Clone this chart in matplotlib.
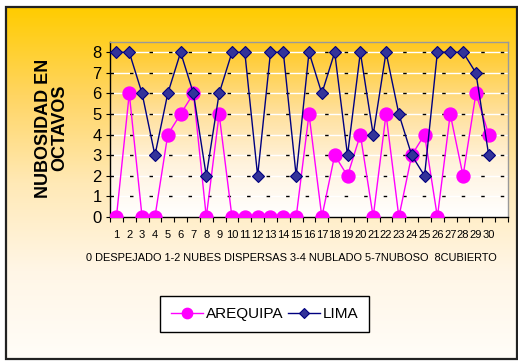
import numpy as np
import matplotlib
matplotlib.use('Agg')
import matplotlib.pyplot as plt
from matplotlib.colors import LinearSegmentedColormap
from matplotlib.patches import Rectangle

days = list(range(1, 31))
arequipa = [0, 6, 0, 0, 4, 5, 6, 0, 5, 0, 0, 0, 0, 0, 0,
            5, 0, 3, 2, 4, 0, 5, 0, 3, 4, 0, 5, 2, 6, 4]
lima = [8, 8, 6, 3, 6, 8, 6, 2, 6, 8, 8, 2, 8, 8, 2,
        8, 6, 8, 3, 8, 4, 8, 5, 3, 2, 8, 8, 8, 7, 3]
yticks = list(range(0, 9))
ylabel = 'NUBOSIDAD EN\nOCTAVOS'
xtitle = '0 DESPEJADO 1-2 NUBES DISPERSAS 3-4 NUBLADO 5-7NUBOSO  8CUBIERTO'

plt.rcParams['font.family'] = ['Liberation Sans', 'DejaVu Sans']

W, H = 518, 361
fig = plt.figure(figsize=(W / 100, H / 100), dpi=100)
fig.patch.set_facecolor('white')

# background with gold -> white gradient inside a black frame
bg = fig.add_axes([0, 0, 1, 1], zorder=-5)
bg.set_xlim(0, W)
bg.set_ylim(H, 0)
bg.axis('off')
outer = LinearSegmentedColormap.from_list(
    'outer', [(0, '#FFCC00'), (0.25, '#FFD562'), (0.5, '#FFE9B6'),
              (0.75, '#FFF6E6'), (1, '#FFFDF8')])
grad = np.linspace(0, 1, 256).reshape(-1, 1)
bg.imshow(grad, cmap=outer, extent=(6, 517, 359, 7), aspect='auto')
bg.add_patch(Rectangle((6, 7), 511, 352, fill=False, ec='#222222', lw=1.6))

# plot area
ax = fig.add_axes([110 / W, 144 / H, 398 / W, 175 / H])
inner = LinearSegmentedColormap.from_list(
    'inner', [(0, '#FFC81E'), (0.4, '#FFE09C'), (0.7, '#FFF3DE'), (1, '#FFFFFF')])
ax.imshow(grad, cmap=inner, extent=(0.5, 31.5, 0, 8.5), aspect='auto', zorder=0)
ax.set_xlim(0.5, 31.5)
ax.set_ylim(0, 8.5)

for y in yticks[1:]:
    ax.axhline(y, color='white', lw=1.0, zorder=1)
    ax.axhline(y, color='black', lw=1.0, ls=(0, (2.5, 11.55)), zorder=1.5)

ax.plot(days, arequipa, color='#FF00FF', lw=1.0, marker='o', ms=9.3,
        mfc='#FF00FF', mec='#FF00FF', label='AREQUIPA', zorder=3)
ax.plot(days, lima, color='#000080', lw=1.0, marker='D', ms=6.5,
        mfc='#333399', mec='#000080', mew=0.8, label='LIMA', zorder=4)

ax.set_xticks(np.arange(0.5, 32, 1))
ax.set_xticklabels([])
ax.set_xticks(days, minor=True)
ax.set_xticklabels([str(d) for d in days], minor=True, fontsize=8)
ax.tick_params(axis='x', which='major', direction='out', length=3.6, width=0.8)
ax.tick_params(axis='x', which='minor', length=0, pad=9)
ax.set_yticks(yticks)
ax.set_yticklabels([str(v) for v in yticks], fontsize=12)
ax.tick_params(axis='y', direction='out', length=3, width=0.8, pad=3)

for side in ['left', 'bottom']:
    ax.spines[side].set_color('black')
    ax.spines[side].set_linewidth(1.0)
for side in ['top', 'right']:
    ax.spines[side].set_color('#999999')
    ax.spines[side].set_linewidth(1.0)

fig.text(51.5 / W, 1 - 128 / H, ylabel, rotation=90, ha='center', va='center',
         fontsize=13, fontweight='bold', linespacing=1.0, multialignment='center')
fig.text(291 / W, 1 - 258 / H, xtitle, ha='center', va='center', fontsize=7.9)

leg = fig.legend(loc='center', bbox_to_anchor=(264.5 / W, 1 - 314 / H), ncol=2,
                 frameon=True, fancybox=False, framealpha=1, edgecolor='black',
                 prop={'size': 11}, handlelength=2.1, handletextpad=0.2,
                 columnspacing=0.3, borderpad=0.7, borderaxespad=0)
leg.get_frame().set_linewidth(1.0)
for h in leg.legend_handles:
    h.set_markersize(h.get_markersize() * 0.8)

fig.savefig('out.png', dpi=100)
